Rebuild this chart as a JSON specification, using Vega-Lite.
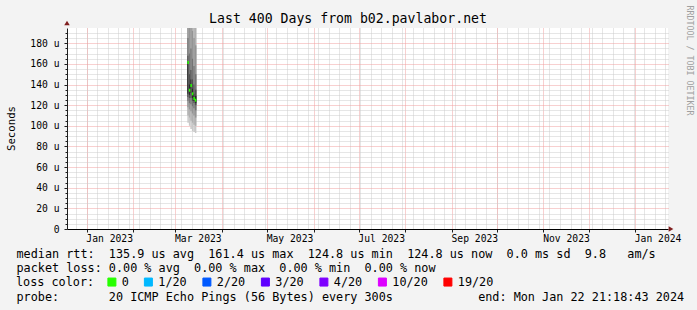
{
  "$schema": "https://vega.github.io/schema/vega-lite/v6.json",
  "width": 601,
  "height": 201,
  "autosize": {"type": "none"},
  "padding": {"left": 67, "top": 28, "right": 29, "bottom": 81},
  "background": "#f3f3f3",
  "title": {
    "text": "Last 400 Days from b02.pavlabor.net",
    "font": "DejaVu Sans Mono",
    "fontSize": 13.2,
    "fontWeight": "normal",
    "color": "#000000",
    "anchor": "middle",
    "dx": -19.5,
    "dy": 35,
    "offset": 4,
    "baseline": "alphabetic"
  },
  "config": {
    "view": {"fill": "#ffffff", "stroke": null},
    "axis": {
      "labelFont": "DejaVu Sans Mono",
      "titleFont": "DejaVu Sans Mono",
      "labelColor": "#000000",
      "titleColor": "#000000",
      "titleFontWeight": "normal"
    }
  },
  "datasets": {
    "smoke": [
      {"start": "2023-03-09T00:00:00Z", "end": "2023-03-10T00:00:00Z", "level": 1, "lo": 103, "hi": 200},
      {"start": "2023-03-09T00:00:00Z", "end": "2023-03-10T00:00:00Z", "level": 2, "lo": 110, "hi": 200},
      {"start": "2023-03-09T00:00:00Z", "end": "2023-03-10T00:00:00Z", "level": 3, "lo": 118, "hi": 200},
      {"start": "2023-03-09T00:00:00Z", "end": "2023-03-10T00:00:00Z", "level": 4, "lo": 124, "hi": 185},
      {"start": "2023-03-09T00:00:00Z", "end": "2023-03-10T00:00:00Z", "level": 5, "lo": 128, "hi": 168},
      {"start": "2023-03-09T00:00:00Z", "end": "2023-03-10T00:00:00Z", "level": 6, "lo": 131, "hi": 162},
      {"start": "2023-03-10T00:00:00Z", "end": "2023-03-11T00:00:00Z", "level": 1, "lo": 100, "hi": 200},
      {"start": "2023-03-10T00:00:00Z", "end": "2023-03-11T00:00:00Z", "level": 2, "lo": 108, "hi": 200},
      {"start": "2023-03-10T00:00:00Z", "end": "2023-03-11T00:00:00Z", "level": 3, "lo": 116, "hi": 196},
      {"start": "2023-03-10T00:00:00Z", "end": "2023-03-11T00:00:00Z", "level": 4, "lo": 122, "hi": 170},
      {"start": "2023-03-10T00:00:00Z", "end": "2023-03-11T00:00:00Z", "level": 5, "lo": 127, "hi": 150},
      {"start": "2023-03-10T00:00:00Z", "end": "2023-03-11T00:00:00Z", "level": 6, "lo": 130, "hi": 140},
      {"start": "2023-03-11T00:00:00Z", "end": "2023-03-12T00:00:00Z", "level": 1, "lo": 97, "hi": 200},
      {"start": "2023-03-11T00:00:00Z", "end": "2023-03-12T00:00:00Z", "level": 2, "lo": 105, "hi": 200},
      {"start": "2023-03-11T00:00:00Z", "end": "2023-03-12T00:00:00Z", "level": 3, "lo": 114, "hi": 198},
      {"start": "2023-03-11T00:00:00Z", "end": "2023-03-12T00:00:00Z", "level": 4, "lo": 121, "hi": 175},
      {"start": "2023-03-11T00:00:00Z", "end": "2023-03-12T00:00:00Z", "level": 5, "lo": 127, "hi": 154},
      {"start": "2023-03-11T00:00:00Z", "end": "2023-03-12T00:00:00Z", "level": 6, "lo": 132, "hi": 145},
      {"start": "2023-03-12T00:00:00Z", "end": "2023-03-13T00:00:00Z", "level": 1, "lo": 95, "hi": 200},
      {"start": "2023-03-12T00:00:00Z", "end": "2023-03-13T00:00:00Z", "level": 2, "lo": 103, "hi": 200},
      {"start": "2023-03-12T00:00:00Z", "end": "2023-03-13T00:00:00Z", "level": 3, "lo": 112, "hi": 192},
      {"start": "2023-03-12T00:00:00Z", "end": "2023-03-13T00:00:00Z", "level": 4, "lo": 119, "hi": 165},
      {"start": "2023-03-12T00:00:00Z", "end": "2023-03-13T00:00:00Z", "level": 5, "lo": 124, "hi": 145},
      {"start": "2023-03-12T00:00:00Z", "end": "2023-03-13T00:00:00Z", "level": 6, "lo": 127, "hi": 136},
      {"start": "2023-03-13T00:00:00Z", "end": "2023-03-14T00:00:00Z", "level": 1, "lo": 94, "hi": 200},
      {"start": "2023-03-13T00:00:00Z", "end": "2023-03-14T00:00:00Z", "level": 2, "lo": 101, "hi": 200},
      {"start": "2023-03-13T00:00:00Z", "end": "2023-03-14T00:00:00Z", "level": 3, "lo": 110, "hi": 185},
      {"start": "2023-03-13T00:00:00Z", "end": "2023-03-14T00:00:00Z", "level": 4, "lo": 117, "hi": 158},
      {"start": "2023-03-13T00:00:00Z", "end": "2023-03-14T00:00:00Z", "level": 5, "lo": 122, "hi": 140},
      {"start": "2023-03-13T00:00:00Z", "end": "2023-03-14T00:00:00Z", "level": 6, "lo": 124, "hi": 131},
      {"start": "2023-03-14T00:00:00Z", "end": "2023-03-15T00:00:00Z", "level": 1, "lo": 93, "hi": 200},
      {"start": "2023-03-14T00:00:00Z", "end": "2023-03-15T00:00:00Z", "level": 2, "lo": 100, "hi": 198},
      {"start": "2023-03-14T00:00:00Z", "end": "2023-03-15T00:00:00Z", "level": 3, "lo": 108, "hi": 178},
      {"start": "2023-03-14T00:00:00Z", "end": "2023-03-15T00:00:00Z", "level": 4, "lo": 115, "hi": 150},
      {"start": "2023-03-14T00:00:00Z", "end": "2023-03-15T00:00:00Z", "level": 5, "lo": 120, "hi": 135},
      {"start": "2023-03-14T00:00:00Z", "end": "2023-03-15T00:00:00Z", "level": 6, "lo": 122, "hi": 129}
    ],
    "median": [
      {"start": "2023-03-09T00:00:00Z", "end": "2023-03-10T00:00:00Z", "rtt": 161.4, "loss": "0"},
      {"start": "2023-03-10T00:00:00Z", "end": "2023-03-11T00:00:00Z", "rtt": 134.5, "loss": "0"},
      {"start": "2023-03-11T00:00:00Z", "end": "2023-03-12T00:00:00Z", "rtt": 139, "loss": "0"},
      {"start": "2023-03-12T00:00:00Z", "end": "2023-03-13T00:00:00Z", "rtt": 131, "loss": "0"},
      {"start": "2023-03-13T00:00:00Z", "end": "2023-03-14T00:00:00Z", "rtt": 126.5, "loss": "0"},
      {"start": "2023-03-14T00:00:00Z", "end": "2023-03-15T00:00:00Z", "rtt": 124.8, "loss": "0"}
    ]
  },
  "layer": [
    {
      "data": {"name": "smoke"},
      "mark": {"type": "rect", "clip": true},
      "encoding": {
        "x": {
          "field": "start",
          "type": "temporal",
          "scale": {
            "type": "utc",
            "domain": [
              {"year": 2022, "month": 12, "date": 18, "hours": 21, "minutes": 18, "seconds": 43, "utc": true},
              {"year": 2024, "month": 1, "date": 22, "hours": 21, "minutes": 18, "seconds": 43, "utc": true}
            ]
          },
          "axis": {
            "orient": "bottom",
            "grid": true,
            "gridColor": "#cccccc",
            "gridDash": [1, 1],
            "gridOpacity": 1,
            "tickCount": {"interval": "week"},
            "labels": false,
            "ticks": false,
            "domain": false,
            "title": [
              "median\u00a0rtt:\u00a0\u00a0135.9\u00a0us\u00a0avg\u00a0\u00a0161.4\u00a0us\u00a0max\u00a0\u00a0124.8\u00a0us\u00a0min\u00a0\u00a0124.8\u00a0us\u00a0now\u00a0\u00a00.0\u00a0ms\u00a0sd\u00a0\u00a09.8\u00a0\u00a0\u00a0am/s",
              "packet\u00a0loss:\u00a00.00\u00a0%\u00a0avg\u00a0\u00a00.00\u00a0%\u00a0max\u00a0\u00a00.00\u00a0%\u00a0min\u00a0\u00a00.00\u00a0%\u00a0now"
            ],
            "titleX": -51,
            "titleY": 28.3,
            "titleAlign": "left",
            "titleBaseline": "alphabetic",
            "titleFontSize": 11.8,
            "titleLineHeight": 14.3
          }
        },
        "x2": {"field": "end"},
        "y": {
          "field": "lo",
          "type": "quantitative",
          "scale": {"domain": [0, 194.8], "nice": false, "zero": true},
          "axis": {
            "orient": "left",
            "grid": true,
            "gridColor": "#cccccc",
            "gridDash": [1, 1],
            "gridOpacity": 1,
            "values": [5, 10, 15, 25, 30, 35, 45, 50, 55, 65, 70, 75, 85, 90, 95, 105, 110, 115, 125, 130, 135, 145, 150, 155, 165, 170, 175, 185, 190],
            "labels": false,
            "ticks": true,
            "tickSize": 2,
            "tickColor": "#1f1f1f",
            "domain": false,
            "title": null
          }
        },
        "y2": {"field": "hi"},
        "fill": {
          "field": "level",
          "type": "ordinal",
          "scale": {"domain": [1, 2, 3, 4, 5, 6], "range": ["#c8c8c8", "#b0b0b0", "#949494", "#747474", "#505050", "#2a2a2a"]},
          "legend": null
        }
      }
    },
    {
      "data": {"name": "median"},
      "mark": {"type": "rule", "strokeWidth": 3, "strokeCap": "butt"},
      "encoding": {
        "x": {
          "field": "start",
          "type": "temporal",
          "axis": {
            "orient": "bottom",
            "grid": true,
            "gridColor": "#f0a0a0",
            "gridDash": [1, 1],
            "gridOpacity": 1,
            "tickCount": {"interval": "month"},
            "labelExpr": "utcmonth(datum.value) % 2 == 0 ? utcFormat(datum.value, '%b %Y') : ''",
            "labelOffset": 22.5,
            "labelFontSize": 9.7,
            "labelPadding": 1.5,
            "labelFlush": false,
            "labelOverlap": false,
            "labelBound": false,
            "ticks": true,
            "tickSize": 3,
            "tickColor": "#1f1f1f",
            "domain": true,
            "domainColor": "#000000",
            "title": null
          }
        },
        "x2": {"field": "end"},
        "y": {
          "field": "rtt",
          "type": "quantitative",
          "axis": {
            "orient": "left",
            "values": [0, 20, 40, 60, 80, 100, 120, 140, 160, 180],
            "grid": true,
            "gridColor": "#f0a0a0",
            "gridDash": [1, 1],
            "gridOpacity": 1,
            "labelExpr": "datum.value == 0 ? '0' : datum.value + ' u'",
            "labelFontSize": 9.7,
            "labelPadding": 5,
            "tickSize": 3,
            "tickColor": "#1f1f1f",
            "domainColor": "#1f1f1f",
            "title": "Seconds",
            "titleFontSize": 10.7,
            "titleX": -56,
            "titleY": 100,
            "titleBaseline": "middle",
            "titleAlign": "center"
          }
        },
        "stroke": {
          "field": "loss",
          "type": "nominal",
          "scale": {
            "domain": ["0", "1/20", "2/20", "3/20", "4/20", "10/20", "19/20"],
            "range": ["#26ff00", "#00b8ff", "#0059ff", "#5e00ff", "#7e00ff", "#dd00ff", "#ff0000"]
          },
          "legend": {
            "orient": "none",
            "legendX": -51,
            "legendY": 248,
            "direction": "horizontal",
            "title": "loss color:",
            "titleOrient": "left",
            "titleFont": "DejaVu Sans Mono",
            "titleFontSize": 11.8,
            "titleFontWeight": "normal",
            "titleColor": "#000000",
            "titlePadding": 11,
            "titleAnchor": "middle",
            "titleBaseline": "middle",
            "labelFont": "DejaVu Sans Mono",
            "labelFontSize": 11.8,
            "labelColor": "#000000",
            "labelOffset": 4,
            "columnPadding": 12.5,
            "symbolType": "square",
            "symbolSize": 64,
            "symbolStrokeWidth": 1,
            "symbolOpacity": 1,
            "padding": 0,
            "encode": {
              "symbols": {
                "update": {
                  "fill": {"scale": "stroke", "field": "value"},
                  "stroke": {"value": "#000000"},
                  "strokeWidth": {"value": 1}
                }
              }
            }
          }
        }
      }
    },
    {
      "data": {"values": [{}]},
      "mark": {"type": "point", "shape": "triangle-up", "filled": true, "color": "#801f1f", "size": 30, "opacity": 1},
      "encoding": {
        "x": {
          "datum": {"year": 2022, "month": 12, "date": 18, "hours": 21, "minutes": 18, "seconds": 43, "utc": true},
          "type": "temporal",
          "axis": {
            "orient": "bottom",
            "grid": false,
            "labels": false,
            "ticks": false,
            "domain": false,
            "title": "probe:\u00a0\u00a0\u00a0\u00a0\u00a0\u00a0\u00a020\u00a0ICMP\u00a0Echo\u00a0Pings\u00a0(56\u00a0Bytes)\u00a0every\u00a0300s\u00a0\u00a0\u00a0\u00a0\u00a0\u00a0\u00a0\u00a0\u00a0\u00a0\u00a0\u00a0end:\u00a0Mon\u00a0Jan\u00a022\u00a021:18:43\u00a02024",
            "titleX": -51,
            "titleY": 71,
            "titleAlign": "left",
            "titleBaseline": "alphabetic",
            "titleFontSize": 11.8
          }
        },
        "y": {
          "datum": 194.8,
          "type": "quantitative",
          "axis": {
            "orient": "right",
            "grid": false,
            "labels": false,
            "ticks": false,
            "domain": false,
            "title": "RRDTOOL / TOBI OETIKER",
            "titleAngle": 90,
            "titleX": 20,
            "titleY": -23,
            "titleAlign": "left",
            "titleBaseline": "middle",
            "titleFont": "DejaVu Sans Mono",
            "titleFontSize": 8.3,
            "titleColor": "#a0a0a0",
            "titleFontWeight": "normal"
          }
        },
        "yOffset": {"value": -5}
      }
    },
    {
      "data": {"values": [{}]},
      "mark": {"type": "point", "shape": "triangle-right", "filled": true, "color": "#801f1f", "size": 30, "opacity": 1},
      "encoding": {
        "x": {"datum": {"year": 2024, "month": 1, "date": 22, "hours": 21, "minutes": 18, "seconds": 43, "utc": true}, "type": "temporal", "axis": null},
        "y": {"datum": 0, "type": "quantitative", "axis": null},
        "xOffset": {"value": 3}
      }
    }
  ],
  "resolve": {"axis": {"x": "independent", "y": "independent"}}
}
